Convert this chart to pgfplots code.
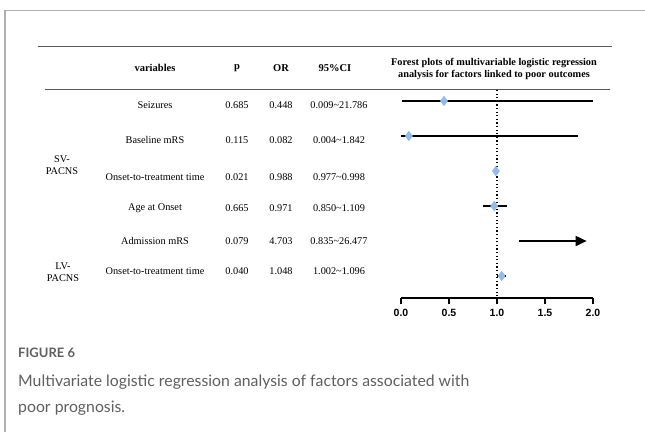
\documentclass[border=0pt]{standalone}
\usepackage{pgfplots}
\pgfplotsset{compat=1.18}
\usepackage{pgfplotstable}
\usepackage{fontspec}
\setmainfont{Liberation Serif}
\newfontfamily\capfont{Lato}
\newfontfamily\tickfont{Liberation Sans}
\usetikzlibrary{arrows.meta}
\definecolor{diam}{RGB}{145,187,238}
\definecolor{framegray}{RGB}{175,175,175}
\definecolor{capgray}{RGB}{95,95,95}
\definecolor{rulegray}{RGB}{90,90,90}
% row index (negative = downwards), odds ratio, lower and upper CI (upper clipped at 2.0 for display)
\pgfplotstableread{
y   or     lo     hi
-1  0.448  0.009  2.000
-2  0.082  0.004  1.842
-3  0.988  0.977  0.998
-4  0.971  0.850  1.109
-6  1.048  1.002  1.096
}\foresttab
\begin{document}
\begin{tikzpicture}
% forest plot (its lower left corner is the origin)
\begin{axis}[
  scale only axis, width=192bp, height=208bp,
  xmin=0, xmax=2, ymin=-6.6286, ymax=-0.6857,
  axis x line=bottom, axis y line=none,
  x axis line style={line width=1.6bp,-},
  xtick={0,0.5,1,1.5,2},
  tick align=outside, major tick length=6bp,
  tick style={line width=1.6bp,black},
  xticklabel style={font=\tickfont\bfseries\fontsize{10.5bp}{12bp}\selectfont, yshift=-1.5bp},
  /pgf/number format/.cd, fixed, fixed zerofill, precision=1, assume math mode=true,
  /pgfplots/.cd,
  clip=false,
]
\addplot[black, line width=1.2bp, dash pattern=on 1.2bp off 2.4bp] coordinates {(1,-0.6857) (1,-6.6286)};
\addplot[draw=none, mark=none,
  error bars/.cd, x dir=both, x explicit, error mark=none,
  error bar style={line width=2.4bp, black, solid}]
  table[x=or, y=y, x error plus expr=\thisrow{hi}-\thisrow{or}, x error minus expr=\thisrow{or}-\thisrow{lo}] {\foresttab};
\addplot[black, line width=1.8bp, -{Triangle[length=11bp,width=10bp]}] coordinates {(1.23,-5) (1.934,-5)};
\addplot[only marks, mark=diamond*, mark size=4.8bp, mark options={fill=diam, draw=diam}] table[x=or, y=y] {\foresttab};
\end{axis}
\begin{scope}[x=1bp,y=1bp,shift={(-401bp,298bp)}]
\useasboundingbox (0,0) rectangle (645,-432);
% frame
\draw[framegray,line width=1.6bp] (5,-432) -- (5,-10.5) -- (645,-10.5);
% table rules
\draw[rulegray,line width=1bp] (38,-46) -- (612,-46);
\draw[rulegray,line width=1bp] (45,-89) -- (610,-89);
% header
\begin{scope}[every node/.style={font=\fontsize{10.5bp}{12.5bp}\selectfont\bfseries}]
\node at (155,-68) {variables};
\node at (237,-68) {p};
\node at (281,-68) {OR};
\node at (335,-68) {95\%CI};
\node[align=center,font=\fontsize{10.3bp}{12.5bp}\selectfont\bfseries] at (494,-69) {Forest plots of multivariable logistic regression\\analysis for factors linked to poor outcomes};
\end{scope}
\begin{scope}[every node/.style={font=\fontsize{10.3bp}{12bp}\selectfont}]
\node at (155,-105) {Seizures};
\node at (155,-140) {Baseline mRS};
\node at (155,-177) {Onset-to-treatment time};
\node at (155,-208) {Age at Onset};
\node at (155,-241) {Admission mRS};
\node at (155,-271) {Onset-to-treatment time};
\node[align=center] at (62,-165) {SV-\\PACNS};
\node[align=center] at (63,-272) {LV-\\PACNS};
\node at (237,-105) {0.685};
\node at (237,-140) {0.115};
\node at (237,-177) {0.021};
\node at (237,-208) {0.665};
\node at (237,-241) {0.079};
\node at (237,-271) {0.040};
\node at (281,-105) {0.448};
\node at (281,-140) {0.082};
\node at (281,-177) {0.988};
\node at (281,-208) {0.971};
\node at (281,-241) {4.703};
\node at (281,-271) {1.048};
\node at (339,-105) {0.009\textasciitilde 21.786};
\node at (339,-140) {0.004\textasciitilde 1.842};
\node at (339,-177) {0.977\textasciitilde 0.998};
\node at (339,-208) {0.850\textasciitilde 1.109};
\node at (339,-241) {0.835\textasciitilde 26.477};
\node at (339,-271) {1.002\textasciitilde 1.096};
\end{scope}
% caption
\node[anchor=base west, text=capgray, font=\capfont\bfseries\fontsize{13bp}{14bp}\selectfont, inner sep=0] at (18,-357) {FIGURE 6};
\node[anchor=base west, text=capgray, font=\capfont\fontsize{15.8bp}{26bp}\selectfont, inner sep=0] at (18,-386) {Multivariate logistic regression analysis of factors associated with};
\node[anchor=base west, text=capgray, font=\capfont\fontsize{15.8bp}{26bp}\selectfont, inner sep=0] at (18,-412) {poor prognosis.};
\end{scope}
\end{tikzpicture}
\end{document}
